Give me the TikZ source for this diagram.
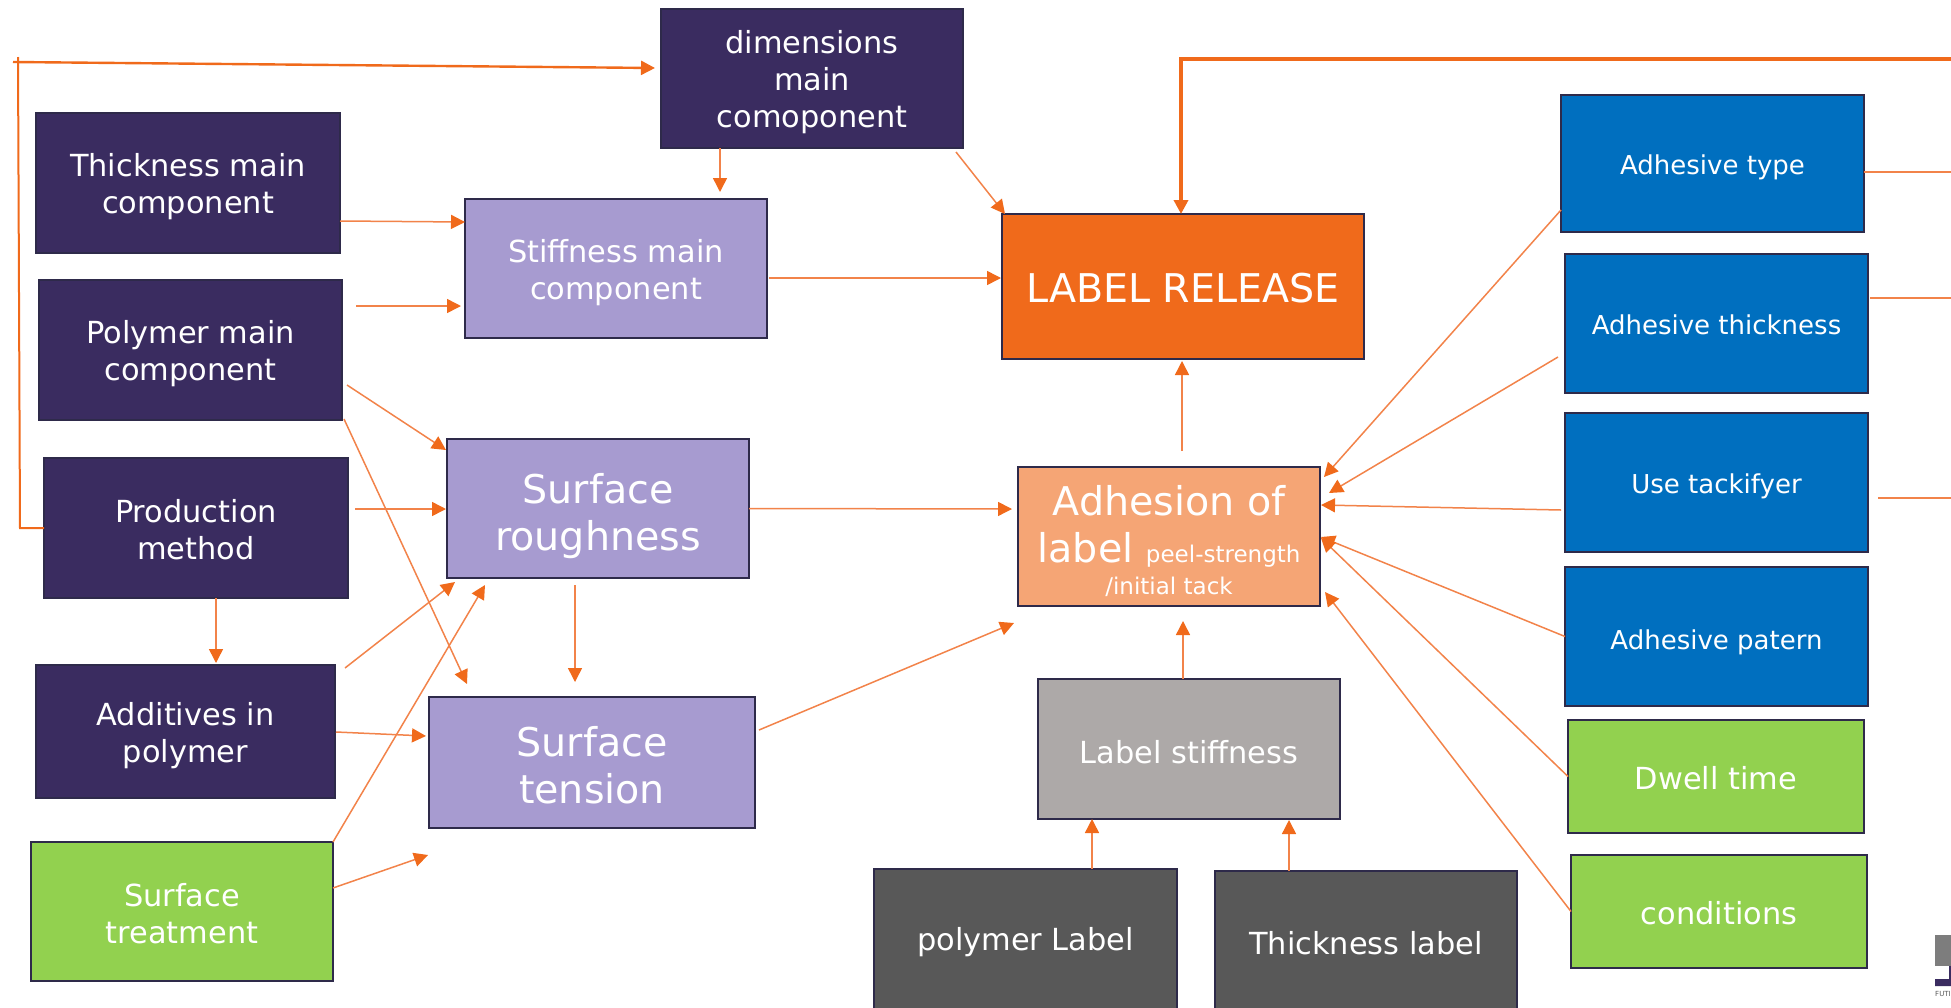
\documentclass[tikz,border=0pt]{standalone}
\usepackage{fontspec}
\setmainfont{DejaVu Sans}
\usetikzlibrary{arrows.meta}
\definecolor{cdark}{HTML}{3A2C60}
\definecolor{clav}{HTML}{A79BD0}
\definecolor{corange}{HTML}{F06A1B}
\definecolor{cpeach}{HTML}{F5A575}
\definecolor{cgrey}{HTML}{ADA9A8}
\definecolor{cdgrey}{HTML}{585858}
\definecolor{cblue}{HTML}{006FBF}
\definecolor{cgreen}{HTML}{92D14F}
\definecolor{cline}{HTML}{F2834A}
\definecolor{cedge}{HTML}{2E2A4A}
\newcommand{\fs}[1]{\fontsize{#1}{#1}\selectfont}
\newcommand{\dn}{\rule{0pt}{1em}}
\newcommand{\dnless}{\rule{0pt}{0.87em}}
\tikzset{
  bx/.style={draw=cedge,line width=1.6pt,inner sep=0pt,outer sep=0pt,text=white,align=center,font=\fs{30.4}},
  bdark/.style={bx,fill=cdark},
  blav/.style={bx,fill=clav},
  bblue/.style={bx,fill=cblue,font=\fs{26}},
  bgreen/.style={bx,fill=cgreen},
  bgrey/.style={bx,fill=cgrey,font=\fs{30.4}},
  bdgrey/.style={bx,fill=cdgrey},
  big/.style={font=\fontsize{39.6}{47}\selectfont},
  two/.style={font=\fontsize{30.4}{37}\selectfont},
  conn/.style={draw=cline,line width=1.5pt,-{Triangle[length=14pt,width=14pt,color=corange]}},
  plainline/.style={draw=cline,line width=1.5pt},
  thickline/.style={draw=corange,line width=3.5pt},
}
\begin{document}
\begin{tikzpicture}[x=1pt,y=-1pt]
\useasboundingbox (0,0) rectangle (1951,1007);
% logo
\fill[gray!80!black,fill opacity=.85] (1935,935) rectangle (1951,966);
\fill[cdark] (1935,979) rectangle (1951,986) (1949,966) rectangle (1951,980);
% boxes
\node[bdark,two,minimum width=302pt,minimum height=139pt] (dim) at (812,78.5) {\dn dimensions\\main\\comoponent};
\node[bdark,two,minimum width=304pt,minimum height=140pt] (thick) at (188,183) {\dn Thickness main\\component};
\node[bdark,two,minimum width=303pt,minimum height=140pt] (poly) at (190.5,350) {\dn Polymer main\\component};
\node[bdark,two,minimum width=304pt,minimum height=140pt] (prod) at (196,528) {\dnless Production\\method};
\node[bdark,two,minimum width=299pt,minimum height=133pt] (addi) at (185.5,731.5) {\dn Additives in\\polymer};
\node[bgreen,two,minimum width=302pt,minimum height=139pt] (treat) at (182,911.5) {\dnless Surface\\treatment};
\node[blav,two,minimum width=302pt,minimum height=139pt] (stiff) at (616,268.5) {\dn Stiffness main\\component};
\node[blav,big,minimum width=302pt,minimum height=139pt] (rough) at (598,508.5) {\rule{0pt}{45pt}Surface\\roughness};
\node[blav,big,minimum width=326pt,minimum height=131pt] (tens) at (592,762.5) {\rule{0pt}{35pt}Surface\\tension};
\node[bx,fill=corange,font=\fs{39.6},minimum width=362pt,minimum height=145pt] (release) at (1183,286.5) {\rule{0pt}{33pt}LABEL RELEASE};
\node[bx,fill=cpeach,font=\fontsize{39.6}{47}\selectfont,minimum width=302pt,minimum height=139pt] (adh) at (1169,536.5) {\rule{0pt}{39pt}Adhesion of\\label {\fontsize{23}{30}\selectfont peel-strength}\\[-14.5pt]{\fontsize{23}{30}\selectfont /initial tack}};
\node[bgrey,minimum width=302pt,minimum height=140pt] (lstiff) at (1189,749) {\dn Label stiffness};
\node[bdgrey,minimum width=303pt,minimum height=143pt] (plabel) at (1025.5,940.5) {\dnless polymer Label};
\node[bdgrey,minimum width=302pt,minimum height=141pt] (tlabel) at (1366,941.5) {\dnless Thickness label};
\node[bblue,minimum width=303pt,minimum height=137pt] (atype) at (1712.5,163.5) {\rule{0pt}{28pt}Adhesive type};
\node[bblue,minimum width=303pt,minimum height=139pt] (athick) at (1716.5,323.5) {\dnless Adhesive thickness};
\node[bblue,minimum width=303pt,minimum height=139pt] (tack) at (1716.5,482.5) {\rule{0pt}{28pt}Use tackifyer};
\node[bblue,minimum width=303pt,minimum height=139pt] (patern) at (1716.5,636.5) {\rule{0pt}{32pt}Adhesive patern};
\node[bgreen,minimum width=296pt,minimum height=113pt] (dwell) at (1716,776.5) {\dnless Dwell time};
\node[bgreen,minimum width=296pt,minimum height=113pt] (cond) at (1719,911.5) {\dnless conditions};
\node[inner sep=0pt,anchor=west,text=cdgrey,font=\fs{7}] (logotext) at (1935,994) {FUTI};
% free ends
\coordinate (bl) at (20,528);
\coordinate (tl) at (18,57);
\coordinate (hl) at (13,62);
\coordinate (tr) at (1951,59);
\coordinate (trc) at (1181,59);
\coordinate (r1) at (1951,172);
\coordinate (r2) at (1951,298);
\coordinate (r3) at (1951,498);
% connectors
\draw[plainline,draw=corange,line width=2pt] (prod.west) -- (bl) -- (tl);
\draw[conn,draw=corange,line width=2.4pt] (hl) -- ([shift={(-6,-10.5)}]dim.west);
\draw[thickline,-{Triangle[length=14pt,width=14pt,color=corange]}] (tr) -- (trc) -- ([shift={(-2,0)}]release.north);
\draw[plainline] ([shift={(0,8.5)}]atype.east) -- (r1);
\draw[plainline] ([shift={(2,-25.5)}]athick.east) -- (r2);
\draw[plainline] ([shift={(10,15.5)}]tack.east) -- (r3);
\draw[conn] ([shift={(-92,0)}]dim.south) -- ([shift={(104,-7)}]stiff.north);
\draw[conn] ([shift={(-7,4)}]dim.south east) -- ([shift={(3,0)}]release.north west);
\draw[conn] ([shift={(0,38)}]thick.east) -- ([shift={(0,-46.5)}]stiff.west);
\draw[conn] ([shift={(14,-44)}]poly.east) -- ([shift={(-4,37.5)}]stiff.west);
\draw[conn] ([shift={(5,35)}]poly.east) -- ([shift={(-1,11)}]rough.north west);
\draw[conn] ([shift={(2,-1)}]poly.south east) -- ([shift={(38,-13)}]tens.north west);
\draw[conn] ([shift={(7,-19)}]prod.east) -- ([shift={(-1,0.5)}]rough.west);
\draw[conn] ([shift={(20,0)}]prod.south) -- ([shift={(30.5,-2)}]addi.north);
\draw[conn] ([shift={(10,3)}]addi.north east) -- ([shift={(8,4)}]rough.south west);
\draw[conn] ([shift={(1,0.5)}]addi.east) -- ([shift={(-3,-26.5)}]tens.west);
\draw[conn] (treat.north east) -- ([shift={(38,7)}]rough.south west);
\draw[conn] ([shift={(0,-23.5)}]treat.east) -- ([shift={(-1,27)}]tens.south west);
\draw[conn] ([shift={(2,9.5)}]stiff.east) -- ([shift={(-1,-8.5)}]release.west);
\draw[conn] (rough.east) -- ([shift={(-6,-27.5)}]adh.west);
\draw[conn] ([shift={(-23,7)}]rough.south) -- ([shift={(-17,-15)}]tens.north);
\draw[conn] ([shift={(4,-32.5)}]tens.east) -- ([shift={(-4,17)}]adh.south west);
\draw[conn] ([shift={(13,-16)}]adh.north) -- ([shift={(-1,2)}]release.south);
\draw[conn] ([shift={(-6,0)}]lstiff.north) -- ([shift={(14,15)}]adh.south);
\draw[conn] ([shift={(66.5,0)}]plabel.north) -- ([shift={(-97,0)}]lstiff.south);
\draw[conn] ([shift={(-77,0)}]tlabel.north) -- ([shift={(100,1)}]lstiff.south);
\draw[conn] ([shift={(0,-22)}]atype.south west) -- ([shift={(4,10)}]adh.north east);
\draw[conn] ([shift={(-7,33.5)}]athick.west) -- ([shift={(9,-43.5)}]adh.east);
\draw[conn] ([shift={(-4,27.5)}]tack.west) -- ([shift={(1,-31.5)}]adh.east);
\draw[conn] (patern.west) -- ([shift={(1,0.5)}]adh.east);
\draw[conn] (dwell.west) -- ([shift={(1,1.5)}]adh.east);
\draw[conn] (cond.west) -- ([shift={(5,-14)}]adh.south east);
\end{tikzpicture}
\end{document}
